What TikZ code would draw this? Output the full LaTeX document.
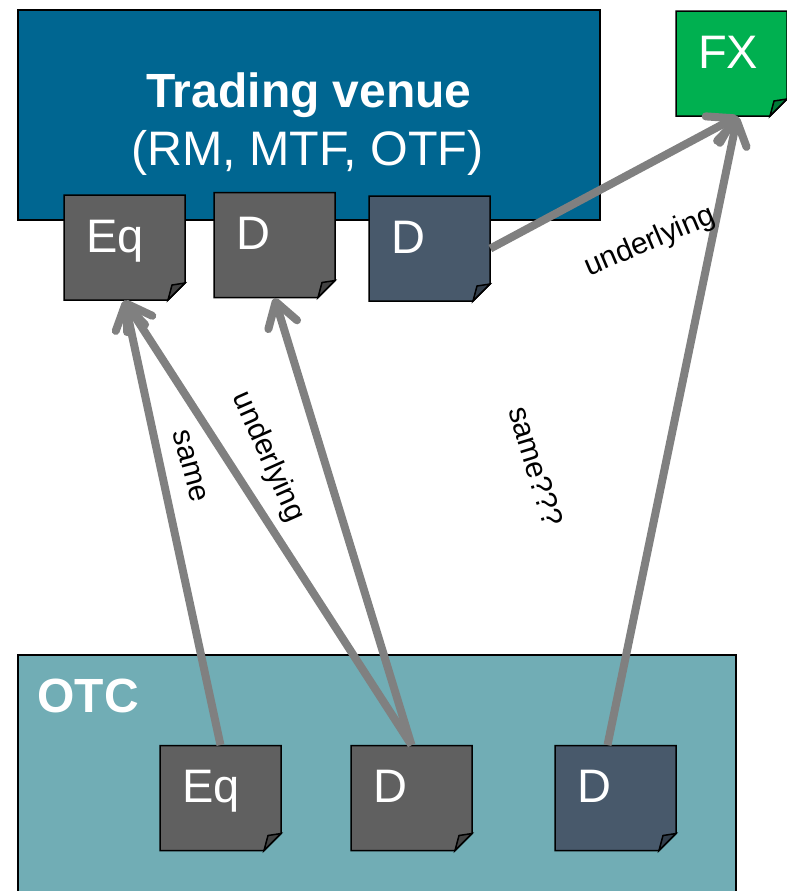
\documentclass[tikz,border=0pt]{standalone}
\usepackage{fontspec}
\setmainfont{Liberation Sans}
\usetikzlibrary{arrows.meta}

\definecolor{venueblue}{RGB}{0,102,145}
\definecolor{otcteal}{RGB}{113,173,181}
\definecolor{notegray}{RGB}{96,96,96}
\definecolor{noteslate}{RGB}{72,89,107}
\definecolor{fxgreen}{RGB}{0,176,80}
\definecolor{linkgray}{RGB}{128,128,128}

\tikzset{
  box/.style={draw=black, line width=0.75pt, inner sep=0pt},
  bigtext/.style={text=white, font=\fontsize{23.5}{28}\selectfont},
  note/.style={bigtext, minimum height=52.5pt, inner xsep=11pt, inner ysep=0pt,
    align=left, text height=12pt, text depth=7.5pt},
  link/.style={draw=linkgray, line width=4pt, -{Straight Barb[length=12pt, width=15pt, round]}},
  linklabel/.style={text=black, font=\fontsize{15}{18}\selectfont}
}

\newcommand{\foldsz}{17}
% sticky note: [width] name, centre, fill, text
\newcommand{\stickynote}[5][121]{%
  \begin{scope}[shift={(#3)}]
    \filldraw[fill=#4, line width=0.75pt] (-#1/2,-52.5) -- (#1/2,-52.5) -- (#1/2,52.5-\foldsz)
      -- (#1/2-\foldsz,52.5) -- (-#1/2,52.5) -- cycle;
    \filldraw[fill=#4!70!black, line width=0.75pt] (#1/2-\foldsz,52.5) -- (#1/2,52.5-\foldsz)
      -- (#1/2-13,52.5-15) -- cycle;
  \end{scope}
  \node[note, minimum width=#1*0.5pt, text width=#1*0.5pt-22pt] (#2) at (#3) {#5};
}

\begin{document}
\begin{tikzpicture}[x=0.5pt, y=-0.5pt]
    \useasboundingbox (0,0) rectangle (787,891);

    % Draw the two areas
    \node[box, fill=venueblue, minimum width=291pt, minimum height=105pt] (tv) at (309,115) {};
    \node[text=white, font=\fontsize{24}{28}\selectfont\bfseries, anchor=base] (tvtitle) at (309,107) {Trading venue};
    \node[text=white, font=\fontsize{24.2}{28}\selectfont, anchor=base] (tvsub) at (307.5,165) {(RM, MTF, OTF)};

    \node[box, fill=otcteal, minimum width=359pt, minimum height=122.5pt] (otc) at (377,777.5) {};
    \node[text=white, font=\fontsize{24}{28}\selectfont\bfseries, anchor=base west, inner sep=0pt] (otclabel) at (37,712) {OTC};

    % Instruments on the venue
    \stickynote{eqT}{124.5,247.5}{notegray}{Eq}
    \stickynote{dT}{274.5,245}{notegray}{D}
    \stickynote{dsT}{429.5,248.5}{noteslate}{D}
    \stickynote[111]{fx}{731.5,63.5}{fxgreen}{FX}

    % Instruments traded OTC
    \stickynote{eqB}{220.5,798}{notegray}{Eq}
    \stickynote{dB}{411.5,798}{notegray}{D}
    \stickynote{dsB}{615.5,798}{noteslate}{D}

    % Links
    \draw[link] (eqB.north) -- (eqT.south);
    \draw[link] (dB.north) -- (eqT.south);
    \draw[link] (dB.north) -- (dT.south);
    \draw[link] ([shift={(-8,0)}]dsB.north) -- ([shift={(6,0)}]fx.south);
    \draw[link] (dsT.east) -- ([shift={(6,0)}]fx.south);

    % Label the links
    \node[linklabel, rotate=-75] (lblsame) at (190,466) {same};
    \node[linklabel, rotate=-66] (lblunderA) at (268,457) {underlying};
    \node[linklabel, rotate=-73] (lblsameq) at (536,466) {same???};
    \node[linklabel, rotate=23] (lblunderB) at (650,242) {underlying};
\end{tikzpicture}
\end{document}
